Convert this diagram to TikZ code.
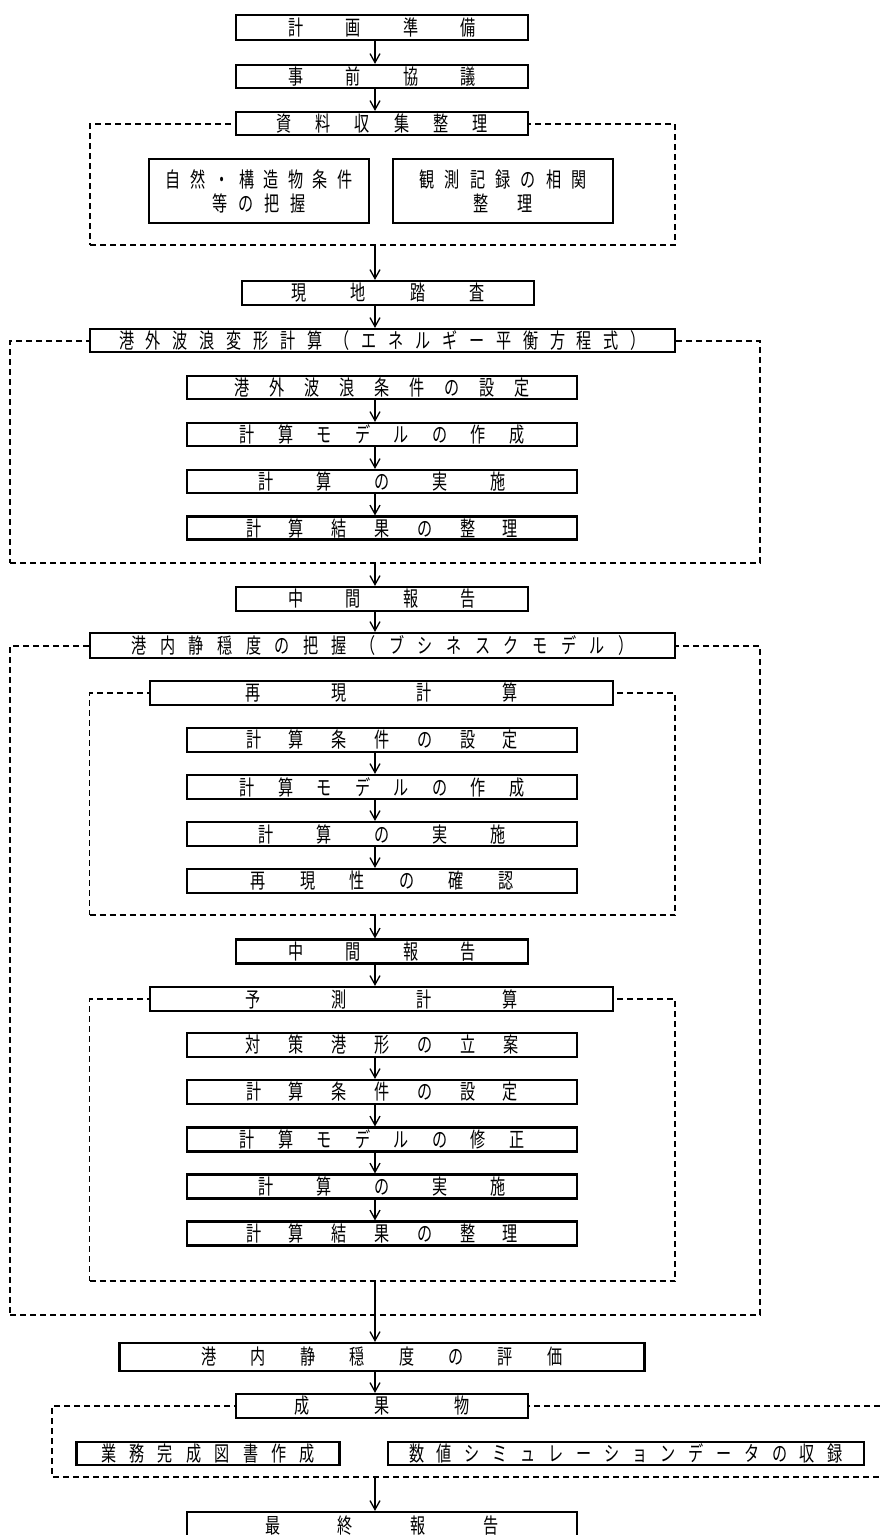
\documentclass[tikz,border=0pt]{standalone}
\usepackage{fontspec}
\newfontfamily\jp[FakeStretch=0.72]{Noto Sans CJK JP}
\usetikzlibrary{arrows.meta}
\def\jsepa#1{#1\jsepb}
\def\jsepb#1{\ifx\relax#1\else\hfill#1\expandafter\jsepb\fi}
\newcommand\jt[2]{\makebox[#1][s]{\jsepa#2\relax}}
\newcommand\jfont{\jp\fontsize{21pt}{24pt}\selectfont}
\begin{document}
\begin{tikzpicture}[x=1pt,y=-1pt,
  box/.style={draw,line width=2.2pt,fill=white,inner sep=0pt,font=\jfont,align=center},
  dbox/.style={draw,line width=1.5pt,dash pattern=on 6pt off 4pt,inner sep=0pt},
  arr/.style={line width=1.4pt,-{Straight Barb[length=9pt,width=10pt,line width=1.3pt]}}]
\useasboundingbox (0,0) rectangle (880,1535);
\coordinate (ax) at (375,0);

% dashed frames
\node[dbox,minimum width=585pt,minimum height=121pt] (D1) at (382.5,184.5) {};
\node[dbox,minimum width=750pt,minimum height=222pt] (D2) at (385,452) {};
\node[dbox,minimum width=750pt,minimum height=669pt] (D3) at (385,980.5) {};
\node[dbox,minimum width=585.5pt,minimum height=222pt] (D4) at (382.25,804) {};
\node[dbox,minimum width=585.5pt,minimum height=282pt] (D5) at (382.25,1140) {};
\draw[line width=1.5pt,dash pattern=on 6pt off 4pt] (890,1406) -- (52,1406) -- (52,1477) -- (890,1477);
\coordinate (d6b) at (375,1477);

% boxes
\node[box,minimum width=292pt,minimum height=25pt] (A) at (382,27.5) {\jt{188pt}{計画準備}};
\node[box,minimum width=292pt,minimum height=23pt] (B) at (382,76.5) {\jt{188pt}{事前協議}};
\node[box,minimum width=292pt,minimum height=23pt] (C) at (382,123.5) {\jt{212pt}{資料収集整理}};
\node[box,minimum width=220pt,minimum height=64pt] (C1) at (259,191) {\jt{187pt}{自然・構造物条件}\\\jt{94pt}{等の把握}};
\node[box,minimum width=220pt,minimum height=64pt] (C2) at (503,191) {\jt{167pt}{観測記録の相関}\\\jt{59pt}{整理}};
\node[box,minimum width=292pt,minimum height=24pt] (E) at (388,293) {\jt{194pt}{現地踏査}};
\node[box,minimum width=585pt,minimum height=23pt] (F) at (382.5,340.5) {\jt{527pt}{港外波浪変形計算（エネルギー平衡方程式）}};
\node[box,minimum width=390pt,minimum height=23pt] (F1) at (382,387.5) {\jt{296pt}{港外波浪条件の設定}};
\node[box,minimum width=390pt,minimum height=23pt] (F2) at (382,434.5) {\jt{285pt}{計算モデルの作成}};
\node[box,minimum width=390pt,minimum height=23pt] (F3) at (382,481.5) {\jt{248pt}{計算の実施}};
\node[box,minimum width=390pt,minimum height=23pt] (F4) at (382,528) {\jt{272pt}{計算結果の整理}};
\node[box,minimum width=292pt,minimum height=24pt] (G) at (382,599) {\jt{187pt}{中間報告}};
\node[box,minimum width=585pt,minimum height=25pt] (H) at (382.5,645.5) {\jt{502pt}{港内静穏度の把握（ブシネスクモデル）}};
\node[box,minimum width=463pt,minimum height=24pt] (I) at (381.5,693) {\jt{272pt}{再現計算}};
\node[box,minimum width=390pt,minimum height=24pt] (I1) at (382,740) {\jt{272pt}{計算条件の設定}};
\node[box,minimum width=390pt,minimum height=24pt] (I2) at (382,787) {\jt{285pt}{計算モデルの作成}};
\node[box,minimum width=390pt,minimum height=24pt] (I3) at (382,834) {\jt{248pt}{計算の実施}};
\node[box,minimum width=390pt,minimum height=24pt] (I4) at (382,881) {\jt{263pt}{再現性の確認}};
\node[box,minimum width=292pt,minimum height=24pt] (J) at (382,951.5) {\jt{187pt}{中間報告}};
\node[box,minimum width=463pt,minimum height=24pt] (K) at (381.5,999) {\jt{272pt}{予測計算}};
\node[box,minimum width=390pt,minimum height=24pt] (K1) at (382,1045) {\jt{274pt}{対策港形の立案}};
\node[box,minimum width=390pt,minimum height=24pt] (K2) at (382,1092) {\jt{272pt}{計算条件の設定}};
\node[box,minimum width=390pt,minimum height=24pt] (K3) at (382,1139.5) {\jt{285pt}{計算モデルの修正}};
\node[box,minimum width=390pt,minimum height=24pt] (K4) at (382,1186.5) {\jt{248pt}{計算の実施}};
\node[box,minimum width=390pt,minimum height=24pt] (K5) at (382,1233.5) {\jt{272pt}{計算結果の整理}};
\node[box,minimum width=525pt,minimum height=28pt] (L) at (382,1357) {\jt{361pt}{港内静穏度の評価}};
\node[box,minimum width=292pt,minimum height=24pt] (M) at (382,1406) {\jt{175pt}{成果物}};
\node[box,minimum width=263pt,minimum height=23.5pt] (M1) at (208,1453.5) {\jt{214pt}{業務完成図書作成}};
\node[box,minimum width=476pt,minimum height=23.5pt] (M2) at (626,1453.5) {\jt{434pt}{数値シミュレーションデータの収録}};
\node[box,minimum width=390pt,minimum height=28pt] (N) at (382,1526) {\jt{234pt}{最終報告}};

% connectors
\draw[arr] (A.south -| ax) -- (B.north -| ax);
\draw[arr] (B.south -| ax) -- (C.north -| ax);
\draw[arr] (D1.south -| ax) -- (E.north -| ax);
\draw[arr] (E.south -| ax) -- (F.north -| ax);
\draw[arr] (F1.south -| ax) -- (F2.north -| ax);
\draw[arr] (F2.south -| ax) -- (F3.north -| ax);
\draw[arr] (F3.south -| ax) -- (F4.north -| ax);
\draw[arr] (D2.south -| ax) -- (G.north -| ax);
\draw[arr] (G.south -| ax) -- (H.north -| ax);
\draw[arr] (I1.south -| ax) -- (I2.north -| ax);
\draw[arr] (I2.south -| ax) -- (I3.north -| ax);
\draw[arr] (I3.south -| ax) -- (I4.north -| ax);
\draw[arr] (D4.south -| ax) -- (J.north -| ax);
\draw[arr] (J.south -| ax) -- (K.north -| ax);
\draw[arr] (K1.south -| ax) -- (K2.north -| ax);
\draw[arr] (K2.south -| ax) -- (K3.north -| ax);
\draw[arr] (K3.south -| ax) -- (K4.north -| ax);
\draw[arr] (K4.south -| ax) -- (K5.north -| ax);
\draw[arr] (D5.south -| ax) -- (L.north -| ax);
\draw[arr] (L.south -| ax) -- (M.north -| ax);
\draw[arr] (d6b) -- (N.north -| ax);
\end{tikzpicture}
\end{document}
